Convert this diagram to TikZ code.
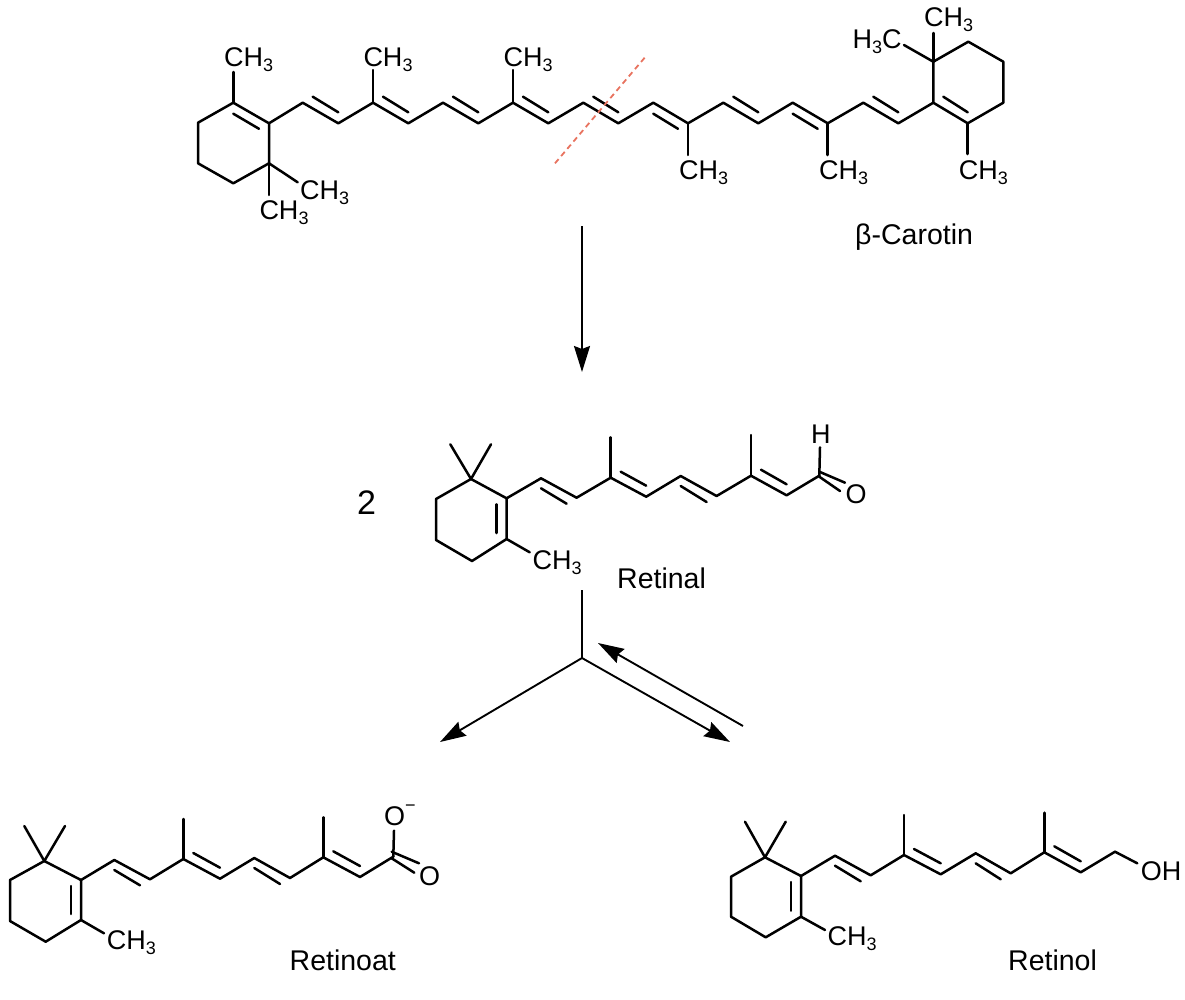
\documentclass[tikz,border=0pt]{standalone}
\usepackage{fontspec}
\setmainfont{Liberation Sans}
\usetikzlibrary{calc,arrows.meta}
\definecolor{cutred}{HTML}{E8735F}
\newcommand{\chthree}{CH\raisebox{-5pt}{\fontsize{18}{18}\selectfont 3}}
\newcommand{\hthree}{H\raisebox{-5pt}{\fontsize{18}{18}\selectfont 3}C}
\tikzset{
  bond/.style={line width=2.5pt,line cap=round,line join=round},
  reactarrow/.style={line width=1.9pt,-{Stealth[length=26pt,width=16pt,inset=3pt]}},
  reactline/.style={line width=1.9pt},
  atomlabel/.style={font=\fontsize{27}{27}\selectfont,inner sep=0pt,anchor=base west},
  namelabel/.style={font=\fontsize{28.5}{28.5}\selectfont,inner sep=0pt,anchor=base west}
}
\begin{document}
\begin{tikzpicture}[x=1pt,y=-1pt]
  \useasboundingbox (0,0) rectangle (1185,999);
  % beta-carotene
  \foreach \nm/\px/\py in {car1/233.3/102.7,car2/198/122.7,car3/198/163.3,car4/233.3/183.3,car5/269/163.3,car6/269/123.3,
    car7/302.7/102.7,car8/338.3/123.3,car9/373/102.7,car10/408.3/123.3,car11/443/102.7,car12/478.3/123.3,
    car13/513/102.7,car14/548.3/123.3,car15/583.3/102.7,car16/618.3/123.3,car17/653.3/102.7,car18/688/123.3,
    car19/723.3/102.7,car20/758.3/123.3,car21/792.7/102.7,car22/827.7/123.3,car23/863.3/102.7,car24/898.3/123.3,
    car25/933.3/102.7,car26/967.7/123.3,car27/1003.3/102.7,car28/1003.3/61.7,car29/968.3/41.7,car30/933.3/61.7,
    cara/233.3/72,carb/373/70,carc/513/70,card/688/155,care/827.7/155,carf/967.7/154,
    carg/269/195,carh/297.7/182.3,cari/933.3/33,carj/904/45}
    \coordinate (\nm) at (\px,\py);
  \draw[bond] (car1) \foreach \i in {2,...,30} {-- (car\i)} -- (car25);
  \draw[bond] (car6) -- (car1);
  \foreach \a/\b in {car1/cara,car9/carb,car13/carc,car18/card,car22/care,car26/carf,car5/carg,car5/carh,car30/cari,car30/carj}
    \draw[bond] (\a) -- (\b);
  \foreach \a/\b in {car7/car8,car9/car10,car11/car12,car13/car14,car15/car16,car19/car20,car23/car24,car25/car26}
    \draw[bond] ($(\a)+(10,-6)$) -- ($(\b)+(0,-11)$);
  \foreach \a/\b in {car1/car6,car17/car18,car21/car22}
    \draw[bond] ($(\a)+(0,11)$) -- ($(\b)+(-10,5.5)$);
  \node[atomlabel] (cma) at (224,66) {\chthree};
  \node[atomlabel] (cmb) at (363.3,66) {\chthree};
  \node[atomlabel] (cmc) at (503.3,66) {\chthree};
  \node[atomlabel] (cmd) at (679,179.3) {\chthree};
  \node[atomlabel] (cme) at (819,179.3) {\chthree};
  \node[atomlabel] (cmf) at (958.7,179.3) {\chthree};
  \node[atomlabel] (cmg) at (259.3,219) {\chthree};
  \node[atomlabel] (cmh) at (300,199) {\chthree};
  \node[atomlabel] (cmi) at (924,26.7) {\chthree};
  \node[atomlabel] (cmj) at (852.5,48.3) {\hthree};
  \node[namelabel] (carname) at (855,244.3) {β-Carotin};
  \coordinate (cuta) at (555,163.3);
  \coordinate (cutb) at (645,57.3);
  \draw[cutred,line width=1.8pt,dash pattern=on 5.5pt off 4pt] (cuta) -- (cutb);
  % first arrow
  \coordinate (arra) at (582,226);
  \coordinate (arrb) at (582,372);
  \draw[reactarrow] (arra) -- (arrb);
  % retinal
  \foreach \nm/\px/\py in {ret1/471/479,ret2/436/499,ret3/436/540,ret4/472/561,ret5/506.6/539,ret6/506.6/498.3,
    ret7/541/478.3,ret8/576.6/497.7,ret9/610.7/477.7,ret10/646.2/496.7,ret11/680.7/476,ret12/716.6/496,
    ret13/751/475.7,ret14/786.6/495.3,ret15/819.3/475.7,
    retg/450.3/444.3,reth/491/444.3,reta/610.7/437.3,retb/751/435,retc/529.7/552.3,retd/820/447.3,
    rete/819.3/471.7,retf/845/482.7,reti/819.3/476.7,retj/840/491}
    \coordinate (\nm) at (\px,\py);
  \node[atomlabel] (retme) at (532.4,569) {\chthree};
  \node[atomlabel] (reth1) at (811,443.3) {H};
  \node[atomlabel] (reto) at (845.5,503.5) {O};
  \node[namelabel] (retname) at (617,588) {Retinal};
  \node[font=\fontsize{34}{34}\selectfont,inner sep=0pt] (two) at (366.5,503) {2};
  \draw[bond] (rete) -- (retf);
  \draw[bond] (reti) -- (retj);
  \draw[bond] (ret15) -- (retd);
  % branching arrows
  \coordinate (brta) at (582,590);
  \coordinate (brtb) at (582,658);
  \coordinate (brtc) at (440,742);
  \coordinate (brtd) at (730,742);
  \coordinate (brte) at (743,726);
  \coordinate (brtf) at (598,643);
  \draw[reactline] (brta) -- (brtb);
  \draw[reactarrow] (brtb) -- (brtc);
  \draw[reactarrow] (brtb) -- (brtd);
  \draw[reactarrow] (brte) -- (brtf);
  % retinoate
  \foreach \nm/\px/\py in {oat1/44.3/861,oat2/10/880,oat3/10/921,oat4/45.7/941.7,oat5/81/920,oat6/81/880,
    oat7/114.3/860,oat8/150/879.3,oat9/183.3/859,oat10/220/878.7,oat11/254.3/858,oat12/290/878,
    oat13/323.3/857.3,oat14/360/877,oat15/393.3/856.7,
    oatg/24.3/826,oath/65/826,oata/183.3/819,oatb/323.3/817.3,oatc/104/933.3,oatd/394/830.7,
    oate/391.7/851.7,oatf/419/863.3,oati/391.7/858.3,oatj/414.3/872.7}
    \coordinate (\nm) at (\px,\py);
  \node[atomlabel] (oatme) at (106.7,949.3) {\chthree};
  \node[atomlabel] (oato) at (384,825) {O\raisebox{14pt}{\fontsize{18}{18}\selectfont −}};
  \node[atomlabel] (oatp) at (419,885) {O};
  \node[namelabel] (oatname) at (289.5,970) {Retinoat};
  \draw[bond] (oate) -- (oatf);
  \draw[bond] (oati) -- (oatj);
  \draw[bond] (oat15) -- (oatd);
  % retinol
  \foreach \nm/\px/\py in {rol1/765/857.3,rol2/731/876.7,rol3/731/916.7,rol4/765.7/937.3,rol5/801/916.7,rol6/801/876,
    rol7/835/855.7,rol8/870.7/875.3,rol9/904/855,rol10/940.7/874.3,rol11/975.7/853.3,rol12/1010.7/873.3,
    rol13/1044.3/852.3,rol14/1080.7/872.3,rol15/1115/851.7,rol16/1137.3/863.3,
    rolg/745/821.7,rolh/785.7/821.7,rola/904/815,rolb/1044.3/812.7,rolc/825/930}
    \coordinate (\nm) at (\px,\py);
  \node[atomlabel] (rolme) at (827.3,945) {\chthree};
  \node[atomlabel] (roloh) at (1140.7,880) {OH};
  \node[namelabel] (rolname) at (1008,970) {Retinol};
  \draw[bond] (rol15) -- (rol16);
  % the three shared skeletons
  \foreach \m in {ret,oat,rol} {
    \draw[bond] (\m1) \foreach \i in {2,...,15} {-- (\m\i)};
    \draw[bond] (\m6) -- (\m1);
    \draw[bond] ($(\m6)+(-10,6)$) -- ($(\m5)+(-10,-6)$);
    \draw[bond] (\m1) -- (\m g);
    \draw[bond] (\m1) -- (\m h);
    \draw[bond] (\m9) -- (\m a);
    \draw[bond] (\m13) -- (\m b);
    \draw[bond] (\m5) -- (\m c);
    \foreach \p/\q in {9/10,13/14}
      \draw[bond] ($(\m\p)+(10,-6)$) -- ($(\m\q)+(0,-11)$);
    \foreach \p/\q in {7/8,11/12}
      \draw[bond] ($(\m\p)+(0,10)$) -- ($(\m\q)+(-10,6)$);
  }
\end{tikzpicture}
\end{document}
